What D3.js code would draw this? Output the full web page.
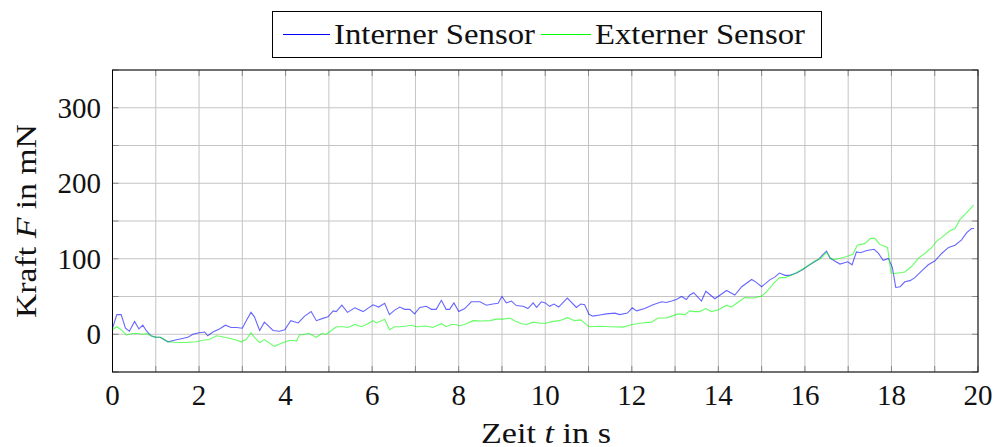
<!DOCTYPE html>
<html lang="de">
  <head>
    <meta charset="UTF-8" />
    <title>Kraft Sensoren</title>
    <script src="https://d3js.org/d3.v7.min.js"></script>
    <style>
      body { margin: 0; background: #fff; }
      svg text { font-family: "Liberation Serif", "Times New Roman", serif; fill: #111; }
    </style>
  </head>
  <body>
    <div id="chart"></div>
    <script>
      // [Zeit t in s, Kraft F in mN]
      const internerSensor = [
        [0, 8], [0.1, 26], [0.2, 26], [0.3, 8], [0.39, 4], [0.51, 17], [0.61, 7], [0.7, 12], [0.79, 4],
        [0.89, -2], [1.0, -4], [1.1, -4], [1.28, -10], [1.43, -8], [1.59, -6], [1.74, -4], [1.86, 0],
        [2.0, 2], [2.13, 3], [2.2, -2], [2.32, 3], [2.47, 7], [2.61, 12], [2.74, 9], [2.87, 9], [3.0, 8],
        [3.1, 19], [3.2, 29], [3.28, 23], [3.4, 5], [3.51, 16], [3.71, 5], [3.86, 4], [3.98, 6], [4.12, 18],
        [4.29, 15], [4.44, 24], [4.59, 30], [4.71, 18], [4.86, 21], [4.98, 23], [5.1, 31], [5.17, 30],
        [5.3, 38.5], [5.43, 29], [5.6, 35], [5.79, 30], [6.02, 39], [6.15, 36], [6.29, 41], [6.4, 26],
        [6.52, 32], [6.64, 36], [6.75, 33], [6.87, 33], [6.98, 27], [7.1, 35.5], [7.25, 37], [7.37, 33],
        [7.48, 33], [7.6, 45], [7.71, 33], [7.79, 33], [7.89, 41.5], [8.0, 30], [8.14, 34], [8.29, 43],
        [8.49, 43], [8.64, 38.5], [8.79, 40], [8.91, 41], [9.0, 50], [9.1, 41.5], [9.22, 44], [9.33, 38],
        [9.49, 37], [9.6, 34], [9.72, 41.5], [9.8, 35.5], [9.91, 43], [10.0, 41.5], [10.1, 37], [10.2, 40],
        [10.31, 36], [10.51, 48], [10.72, 35.5], [10.82, 40], [10.91, 39], [11.01, 26.5], [11.1, 24],
        [11.26, 25.5], [11.41, 27], [11.61, 28], [11.72, 26], [11.9, 28], [12.01, 35], [12.11, 31],
        [12.3, 34], [12.49, 39], [12.69, 43], [12.8, 42], [12.92, 44], [13.03, 46], [13.15, 50], [13.26, 46],
        [13.34, 52], [13.43, 55], [13.61, 44], [13.71, 57], [13.92, 47], [14.19, 58], [14.38, 52],
        [14.54, 63], [14.77, 72.6], [14.87, 69], [15.0, 63], [15.19, 72], [15.31, 76], [15.41, 81],
        [15.54, 78], [15.65, 78], [15.81, 81], [15.96, 86], [16.11, 92], [16.31, 99], [16.41, 105],
        [16.5, 110], [16.58, 101], [16.69, 97], [16.81, 93], [16.99, 96], [17.09, 92], [17.19, 109],
        [17.29, 108], [17.43, 111], [17.6, 112.5], [17.7, 107], [17.81, 98], [17.93, 100.5], [18.02, 88.5],
        [18.1, 62], [18.2, 63], [18.31, 69.5], [18.43, 71], [18.54, 75], [18.7, 84], [18.85, 92], [19.0, 97],
        [19.16, 107], [19.32, 115], [19.47, 118], [19.62, 125], [19.74, 134.5], [19.85, 140], [19.91, 140]
      ];

      const externerSensor = [
        [0, 6], [0.1, 10], [0.2, 6], [0.32, -1], [0.47, 1], [0.59, 1], [0.7, 0], [0.79, 1], [0.89, -2],
        [0.97, -4], [1.12, -4], [1.28, -10], [1.47, -11], [1.7, -11], [1.93, -10], [2.09, -8], [2.24, -7],
        [2.4, -2], [2.51, -3], [2.67, -5], [2.82, -7], [2.97, -10], [3.09, -7], [3.2, 2], [3.28, -4],
        [3.4, -11], [3.51, -7], [3.74, -16], [3.9, -12], [4.05, -9], [4.17, -8], [4.25, -9], [4.32, -1],
        [4.55, 1], [4.71, -4], [4.83, 1], [4.94, 0], [5.06, 5], [5.17, 10], [5.33, 10], [5.44, 9], [5.6, 13],
        [5.75, 10], [5.9, 14], [6.02, 18], [6.1, 15], [6.29, 20], [6.4, 6], [6.52, 10], [6.64, 10],
        [6.79, 11], [6.91, 12], [7.02, 10], [7.25, 11], [7.4, 9], [7.6, 14], [7.71, 10], [7.83, 13],
        [7.94, 13], [8.02, 11], [8.18, 14], [8.33, 18], [8.56, 17.5], [8.72, 18], [8.87, 20], [9.03, 20],
        [9.18, 21.5], [9.29, 18], [9.45, 14], [9.57, 13], [9.72, 16], [9.88, 14.5], [10.0, 14.5],
        [10.18, 17], [10.33, 18], [10.51, 22], [10.68, 18], [10.82, 19], [11.01, 10], [11.26, 10.5],
        [11.53, 10], [11.8, 9.5], [12.01, 13], [12.23, 15], [12.45, 16], [12.61, 21.5], [12.8, 21.5],
        [12.92, 24], [13.07, 27], [13.23, 26], [13.34, 31], [13.45, 30], [13.57, 30], [13.71, 34],
        [13.84, 30], [13.99, 32], [14.19, 38.5], [14.3, 36], [14.42, 41], [14.61, 48.5], [14.8, 48],
        [15.0, 50.5], [15.11, 56], [15.31, 69.5], [15.42, 75], [15.54, 75], [15.69, 78], [15.88, 84],
        [16.03, 89], [16.23, 97], [16.38, 101], [16.5, 108.6], [16.61, 99.6], [16.69, 99], [16.84, 101],
        [16.96, 103], [17.11, 106], [17.21, 118], [17.38, 120], [17.52, 127], [17.62, 127], [17.73, 119],
        [17.91, 115], [17.99, 81], [18.08, 80.5], [18.31, 82.5], [18.47, 90], [18.62, 100.5], [18.77, 107],
        [18.93, 114.6], [19.04, 123], [19.2, 130], [19.35, 137], [19.47, 140], [19.58, 152], [19.74, 161],
        [19.9, 171]
      ];

      const xTicks = [0, 2, 4, 6, 8, 10, 12, 14, 16, 18, 20];
      const yTicks = [0, 100, 200, 300];
      const xGrid = d3.range(0, 21, 1);
      const yGrid = [-50, 0, 50, 100, 150, 200, 250, 300, 350];

      const series = [
        { name: "Interner Sensor", data: internerSensor, color: "#0000ff" },
        { name: "Externer Sensor", data: externerSensor, color: "#00ff00" }
      ];

      const W = 996, H = 447;
      const plot = { left: 112.5, right: 978, top: 70, bottom: 372 };

      const svg = d3.select("#chart").append("svg")
        .attr("width", W).attr("height", H);

      const x = d3.scaleLinear().domain([0, 20]).range([plot.left, plot.right]);
      const y = d3.scaleLinear().domain([-50, 350]).range([plot.bottom, plot.top]);

      // grid
      svg.append("g").selectAll("line").data(xGrid).join("line")
        .attr("x1", d => x(d)).attr("x2", d => x(d))
        .attr("y1", plot.top).attr("y2", plot.bottom)
        .attr("stroke", "#c4c4c4").attr("stroke-width", 1);
      svg.append("g").selectAll("line").data(yGrid).join("line")
        .attr("x1", plot.left).attr("x2", plot.right)
        .attr("y1", d => y(d)).attr("y2", d => y(d))
        .attr("stroke", "#c4c4c4").attr("stroke-width", 1);

      // inward tick marks on all sides
      const tickLen = 6;
      const tk = svg.append("g").attr("stroke", "#888").attr("stroke-width", 1);
      xGrid.forEach(d => {
        tk.append("line").attr("x1", x(d)).attr("x2", x(d)).attr("y1", plot.bottom).attr("y2", plot.bottom - tickLen);
        tk.append("line").attr("x1", x(d)).attr("x2", x(d)).attr("y1", plot.top).attr("y2", plot.top + tickLen);
      });
      yGrid.forEach(d => {
        tk.append("line").attr("x1", plot.left).attr("x2", plot.left + tickLen).attr("y1", y(d)).attr("y2", y(d));
        tk.append("line").attr("x1", plot.right).attr("x2", plot.right - tickLen).attr("y1", y(d)).attr("y2", y(d));
      });

      // lines
      const line = d3.line().x(d => x(d[0])).y(d => y(d[1]));
      svg.append("g").selectAll("path").data(series).join("path")
        .attr("d", d => line(d.data))
        .attr("fill", "none")
        .attr("stroke", d => d.color)
        .attr("stroke-opacity", 0.6)
        .attr("stroke-width", 1.1);

      // frame
      svg.append("rect")
        .attr("x", plot.left).attr("y", plot.top)
        .attr("width", plot.right - plot.left).attr("height", plot.bottom - plot.top)
        .attr("fill", "none").attr("stroke", "#000").attr("stroke-width", 1);

      // tick labels
      svg.append("g").selectAll("text").data(xTicks).join("text")
        .attr("x", d => x(d)).attr("y", 405)
        .attr("text-anchor", "middle").style("font-size", "29px")
        .text(d => d);
      svg.append("g").selectAll("text").data(yTicks).join("text")
        .attr("x", 101).attr("y", d => y(d) + 10)
        .attr("text-anchor", "end").style("font-size", "29px")
        .text(d => d);

      // axis titles
      const xl = svg.append("text").attr("x", 546).attr("y", 443)
        .attr("text-anchor", "middle").style("font-size", "29px")
        .attr("textLength", 130).attr("lengthAdjust", "spacingAndGlyphs");
      xl.append("tspan").text("Zeit ");
      xl.append("tspan").style("font-style", "italic").text("t");
      xl.append("tspan").text(" in s");

      const yl = svg.append("text")
        .attr("transform", `translate(36,${(plot.top + plot.bottom) / 2}) rotate(-90)`)
        .attr("text-anchor", "middle").style("font-size", "29px")
        .attr("textLength", 194).attr("lengthAdjust", "spacingAndGlyphs");
      yl.append("tspan").text("Kraft ");
      yl.append("tspan").style("font-style", "italic").text("F");
      yl.append("tspan").text(" in mN");

      // legend
      const lg = svg.append("g");
      lg.append("rect").attr("x", 272.5).attr("y", 11.5).attr("width", 549).attr("height", 46)
        .attr("fill", "#fff").attr("stroke", "#000").attr("stroke-width", 1);
      const legendItems = [
        { s: series[0], x0: 283, x1: 330, tx: 334, tw: 201 },
        { s: series[1], x0: 541, x1: 591, tx: 595, tw: 210 }
      ];
      legendItems.forEach(it => {
        lg.append("line").attr("x1", it.x0).attr("x2", it.x1).attr("y1", 34.5).attr("y2", 34.5)
          .attr("stroke", it.s.color).attr("stroke-width", 1);
        lg.append("text").attr("x", it.tx).attr("y", 44).style("font-size", "29px")
          .attr("textLength", it.tw).attr("lengthAdjust", "spacingAndGlyphs")
          .text(it.s.name);
      });
    </script>
  </body>
</html>
